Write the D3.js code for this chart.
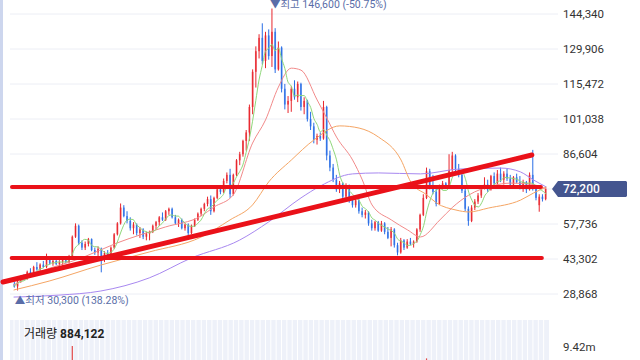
<!DOCTYPE html>
<html>
<head>
<meta charset="utf-8">
<script src="https://cdn.jsdelivr.net/npm/d3@7"></script>
<style>
  body { margin: 0; background: #fff; }
  svg { display: block; }
  text { font-family: Roboto, "Noto Sans CJK KR", sans-serif; }
</style>
</head>
<body>
<svg id="chart" width="640" height="360"></svg>
<script>
// daily prices, in thousand won
const opens = [
  33.0,32.0,34.0,36.0,35.0,38.0,37.5,40.0,39.0,41.0,
  40.0,43.5,41.5,42.5,41.2,42.0,42.8,42.0,44.5,52.5,
  57.0,50.0,48.0,49.5,51.5,47.0,46.0,47.5,44.5,45.8,
  44.0,48.0,53.5,58.0,64.5,61.0,59.0,56.0,57.5,54.0,
  55.5,52.5,53.8,54.5,57.0,58.5,60.5,59.5,63.0,64.0,
  60.5,58.0,59.5,56.0,57.5,54.0,57.0,59.5,62.0,64.0,
  66.0,68.0,63.0,68.5,72.0,71.0,75.5,78.0,70.0,78.0,
  84.0,86.5,92.0,95.5,106.0,120.5,129.0,134.5,125.0,135.5,
  127.0,137.0,121.5,130.5,113.5,107.0,108.5,113.5,110.0,115.5,
  106.0,108.5,101.0,98.0,92.5,94.0,93.0,106.0,86.0,81.0,
  76.0,72.0,74.5,69.0,73.5,67.5,65.5,67.5,63.0,61.5,
  62.5,58.0,56.0,58.5,55.0,58.0,54.5,52.0,55.5,49.0,
  46.0,51.0,48.0,50.5,49.5,50.5,55.5,61.5,68.5,79.5,
  73.0,71.0,66.0,73.5,74.5,73.0,80.0,86.0,80.5,78.0,
  71.5,64.0,59.0,64.5,67.0,69.5,73.0,74.0,72.0,77.5,
  74.5,78.5,76.0,78.5,76.5,74.0,77.0,75.0,73.5,75.0,
  72.0,78.0,72.5,65.5,69.0,68.0
];
const highs = [
  34.0,34.5,36.5,37.0,38.5,39.5,40.5,42.0,41.5,42.5,
  45.5,44.0,43.5,43.0,42.8,43.2,44.0,45.0,53.0,58.0,
  57.5,51.0,50.5,52.0,51.8,48.0,48.5,48.0,46.5,47.0,
  48.5,54.0,58.5,66.2,65.5,63.0,60.5,58.5,58.0,56.5,
  56.0,54.5,55.0,57.5,59.0,61.0,62.5,63.5,64.5,64.5,
  61.5,60.0,60.0,58.0,58.0,57.5,60.0,62.5,64.5,66.5,
  69.0,69.5,69.0,72.5,73.5,76.5,79.0,80.5,78.5,84.5,
  87.5,92.5,96.5,107.0,121.5,131.0,136.0,140.5,137.0,138.0,
  146.6,138.5,133.0,131.0,115.5,110.5,114.5,117.0,116.5,116.0,
  110.0,109.0,104.0,99.5,95.0,95.5,108.5,106.5,88.0,82.5,
  78.0,75.5,75.0,74.5,74.0,69.0,68.5,68.0,64.5,63.5,
  63.0,59.5,59.0,59.0,59.0,58.5,56.5,56.5,56.0,50.0,
  52.0,51.5,51.5,52.0,51.0,56.0,62.0,70.0,81.0,80.5,
  78.0,72.5,74.0,75.5,75.0,86.5,87.5,86.5,82.5,78.5,
  72.5,65.0,65.5,68.0,70.5,73.5,77.0,76.0,78.0,79.0,
  80.0,81.0,79.5,80.5,78.0,77.5,78.5,77.5,76.0,75.5,
  79.0,88.3,73.0,70.0,70.0,73.0
];
const lows = [
  31.5,30.3,33.5,34.5,34.8,37.0,37.0,38.5,38.0,39.5,
  39.5,41.0,40.5,40.8,40.2,40.5,41.5,41.5,44.0,52.0,
  49.0,47.0,47.0,48.5,46.5,45.0,44.5,37.8,42.0,43.5,
  43.5,47.5,53.0,57.5,60.5,58.0,55.0,53.5,53.0,52.0,
  51.5,51.0,51.0,54.0,55.5,57.0,59.0,59.0,61.5,60.0,
  57.5,56.5,55.5,55.0,53.0,53.5,56.5,59.0,61.0,63.0,
  65.0,61.5,62.5,68.0,70.0,70.5,74.5,68.5,69.5,77.5,
  82.0,85.5,88.0,92.0,103.0,114.0,126.0,123.5,122.0,125.5,
  122.5,120.0,121.0,112.0,105.0,103.5,104.0,109.0,108.0,104.5,
  103.0,100.0,96.5,91.0,90.5,92.0,92.5,84.0,79.5,75.0,
  71.0,70.5,68.0,68.5,66.5,64.5,64.5,62.0,60.5,60.0,
  57.0,55.0,55.0,54.5,54.5,53.5,51.5,48.5,48.0,44.8,
  45.5,47.0,47.5,49.0,48.0,50.0,54.5,61.0,68.0,72.0,
  70.0,65.0,65.5,72.0,72.5,72.5,79.0,79.5,77.0,70.5,
  63.0,57.0,58.5,63.5,66.0,68.5,72.0,71.0,71.5,73.5,
  74.0,75.0,74.0,75.5,73.0,72.5,74.5,72.0,71.0,70.5,
  71.5,71.5,67.5,62.8,67.0,67.5
];
const closes = [
  32.0,34.0,36.0,35.0,38.0,37.5,40.0,39.0,41.0,40.0,
  43.5,41.5,42.5,41.2,42.0,42.8,42.0,44.5,52.5,57.0,
  50.0,48.0,49.5,51.5,47.0,46.0,47.5,44.5,45.8,44.0,
  48.0,53.5,58.0,64.5,61.0,59.0,56.0,57.5,54.0,55.5,
  52.5,53.8,54.5,57.0,58.5,60.5,59.5,63.0,64.0,60.5,
  58.0,59.5,56.0,57.5,54.0,57.0,59.5,62.0,64.0,66.0,
  68.0,63.0,68.5,72.0,71.0,75.5,78.0,70.0,78.0,84.0,
  86.5,92.0,95.5,106.0,120.5,129.0,134.5,125.0,135.5,127.0,
  137.0,121.5,130.5,113.5,107.0,108.5,113.5,110.0,115.5,106.0,
  108.5,101.0,98.0,92.5,94.0,93.0,106.0,86.0,81.0,76.0,
  72.0,74.5,69.0,73.5,67.5,65.5,67.5,63.0,61.5,62.5,
  58.0,56.0,58.5,55.0,58.0,54.5,52.0,55.5,49.0,46.0,
  51.0,48.0,50.5,49.5,50.5,55.5,61.5,68.5,79.5,73.0,
  71.0,66.0,73.5,74.5,73.0,80.0,86.0,80.5,78.0,71.5,
  64.0,59.0,64.5,67.0,69.5,73.0,74.0,72.0,77.5,74.5,
  78.5,76.0,78.5,76.5,74.0,77.0,75.0,73.5,75.0,72.0,
  78.0,72.5,68.5,69.0,68.0,72.2
];

// moving average lines (day index, thousand won)
const pinkIdx = [0,8,21,32,47,58,62,68,74,78,82,86,89,94,97,100,105,108,111,117,122,126,132,136,141,148,154,160,165];
const pinkVal = [32.6,37.9,43.7,49.9,56.5,61.0,64.7,69.7,91.1,100.6,114.2,122.0,121.2,108.9,101.4,93.6,84.1,75.9,65.6,59.4,55.3,52.4,59.4,64.7,69.7,73.4,74.6,74.2,72.2];
const orangeIdx = [0,11,27,42,58,67,74,79,86,93,101,107,113,120,123,128,131,137,141,147,157,161,165];
const orangeVal = [30.5,34.2,40.8,46.2,52.3,59.4,65.6,75.1,84.1,92.4,98.2,97.3,93.6,84.1,75.1,69.7,66.4,63.5,62.7,64.3,67.6,70.5,73.0];
const purpleIdx = [0,14,27,42,55,70,79,89,95,105,113,126,138,151,157,161,165];
const purpleVal = [27.6,28.4,30.1,35.5,43.7,51.1,58.6,68.5,73.4,78.4,78.8,78.4,80.4,80.8,79.2,75.9,73.0];

// hand drawn red lines: [day index, thousand won] start and end
const trendStart = [[-0.5, 73.0], [-0.6, 43.7], [-3.3, 33.8]];
const trendEnd   = [[163.3, 73.0], [163.6, 43.7], [160.5, 86.2]];
const trendWidth = [4, 4, 5];

const priceTicks = [144340, 129906, 115472, 101038, 86604, 72170, 57736, 43302, 28868];

// volume bars that reach into the visible part of the volume pane
const volIdx = [18, 128];
const volVal = [9.6e6, 7.4e6];
const volTick = 9.42e6;
const lastVolume = 884122;

const K = 1000;
const N = closes.length;
const UP = '#e8262d', DOWN = '#2a6ee6';

const svg = d3.select('#chart');

const x = d3.scaleBand().domain(d3.range(N)).range([12, 548]).padding(0.45);
const xl = d3.scaleLinear().domain([-0.5, N - 0.5]).range([12, 548]);
const y = d3.scaleLinear().domain([28868, 144340]).range([294, 14]);
const vy = d3.scaleLinear().domain([0, volTick]).range([400, 347]);

const last = closes[N - 1];
const ly = y(last * K);

// left edge strip
svg.append('rect').attr('x', 0).attr('y', 0).attr('width', 3).attr('height', 360).attr('fill', '#cdd6ee');

// grid
svg.append('g').selectAll('line').data(priceTicks).join('line')
  .attr('x1', 10).attr('x2', 558)
  .attr('y1', d => y(d)).attr('y2', d => y(d))
  .attr('stroke', '#eceef5').attr('stroke-width', 1);

// price axis, the tick under the last price tag is hidden by it
const yAxis = d3.axisRight(y)
  .tickValues(priceTicks.filter(d => Math.abs(y(d) - ly) > 9))
  .tickSize(0).tickPadding(0).tickFormat(d3.format(','));
const ag = svg.append('g').attr('transform', 'translate(563,0)').call(yAxis);
ag.select('.domain').remove();
ag.selectAll('text').attr('fill', '#333').style('font-size', '11.5px').style('font-family', 'Roboto, sans-serif');

// volume pane
const vp = svg.append('g');
vp.append('rect').attr('x', 10).attr('y', 320).attr('width', 539).attr('height', 40).attr('fill', '#eef1f9');
vp.selectAll('line.stripe').data(d3.range(14, 549, 5.35)).join('line')
  .attr('class', 'stripe')
  .attr('x1', d => d).attr('x2', d => d).attr('y1', 320).attr('y2', 360)
  .attr('stroke', '#fff').attr('stroke-width', 1);
vp.selectAll('rect.vol').data(volIdx).join('rect')
  .attr('class', 'vol')
  .attr('x', (d) => x(d) + x.bandwidth() / 2 - 0.6)
  .attr('width', 1.2)
  .attr('y', (d, k) => vy(volVal[k]))
  .attr('height', (d, k) => 400 - vy(volVal[k]))
  .attr('fill', (d) => closes[d] >= opens[d] ? '#e24a4a' : DOWN);
const vt = vp.append('text').attr('x', 24).attr('y', 338).style('font-size', '12px').attr('fill', '#222');
vt.append('tspan').text('거래량 ');
vt.append('tspan').attr('font-weight', 'bold').text(d3.format(',')(lastVolume));
vp.append('text').attr('x', 563).attr('y', vy(volTick)).attr('dy', '0.35em')
  .style('font-size', '11.5px').attr('fill', '#333').text((volTick / 1e6).toFixed(2) + 'm');

// candles
const cg = svg.append('g');
d3.range(N).forEach(i => {
  const c = closes[i] >= opens[i] ? UP : DOWN;
  const cx = x(i) + x.bandwidth() / 2;
  cg.append('line')
    .attr('x1', cx).attr('x2', cx)
    .attr('y1', y(highs[i] * K)).attr('y2', y(lows[i] * K))
    .attr('stroke', c).attr('stroke-width', 1);
  const top = y(Math.max(opens[i], closes[i]) * K);
  const bot = y(Math.min(opens[i], closes[i]) * K);
  cg.append('rect')
    .attr('x', x(i)).attr('width', x.bandwidth())
    .attr('y', top).attr('height', Math.max(1, bot - top))
    .attr('fill', c).attr('fill-opacity', 0.75);
});

// moving averages
const line = d3.line().x(d => xl(d[0])).y(d => y(d[1] * K)).curve(d3.curveMonotoneX);
const ma5 = closes.map((c, i) => [i, d3.mean(closes.slice(Math.max(0, i - 4), i + 1))]);
const maLines = [
  [purpleIdx.map((d, k) => [d, purpleVal[k]]), '#a888f0'],
  [orangeIdx.map((d, k) => [d, orangeVal[k]]), '#f5a564'],
  [pinkIdx.map((d, k) => [d, pinkVal[k]]), '#f28a8a'],
  [ma5, '#8fd77a']
];
svg.append('g').selectAll('path').data(maLines).join('path')
  .attr('d', d => line(d[0]))
  .attr('fill', 'none').attr('stroke', d => d[1]).attr('stroke-width', 1);

// red hand drawn lines
svg.append('g').selectAll('line').data(trendStart).join('line')
  .attr('x1', d => xl(d[0])).attr('y1', d => y(d[1] * K))
  .attr('x2', (d, k) => xl(trendEnd[k][0])).attr('y2', (d, k) => y(trendEnd[k][1] * K))
  .attr('stroke', '#ea1119').attr('stroke-width', (d, k) => trendWidth[k])
  .attr('stroke-linecap', 'round');

// high / low markers
const iMax = d3.maxIndex(highs), iMin = d3.minIndex(lows);
const pct = v => v.toFixed(2) + '%';
svg.append('text')
  .attr('x', xl(iMax) - 2).attr('y', y(highs[iMax] * K) - 0.5)
  .style('font-size', '10.5px').attr('fill', '#5a6da8')
  .text('▼최고 ' + d3.format(',')(highs[iMax] * K) + ' (' + pct((last - highs[iMax]) / highs[iMax] * 100) + ')');
svg.append('text')
  .attr('x', xl(iMin) - 2).attr('y', y(lows[iMin] * K) + 13)
  .style('font-size', '10.5px').attr('fill', '#5a6da8')
  .text('▲최저 ' + d3.format(',')(lows[iMin] * K) + ' (' + pct((last - lows[iMin]) / lows[iMin] * 100) + ')');

// last price tag
svg.append('path')
  .attr('d', `M552,${ly} L558,${ly - 8} L626,${ly - 8} L627,${ly - 7} L627,${ly + 7} L626,${ly + 8} L558,${ly + 8} Z`)
  .attr('fill', '#44558f');
svg.append('text').attr('x', 563).attr('y', ly).attr('dy', '0.36em')
  .style('font-size', '12px').attr('font-weight', 500).attr('fill', '#fff')
  .text(d3.format(',')(Math.round(last * K)));
</script>
</body>
</html>
